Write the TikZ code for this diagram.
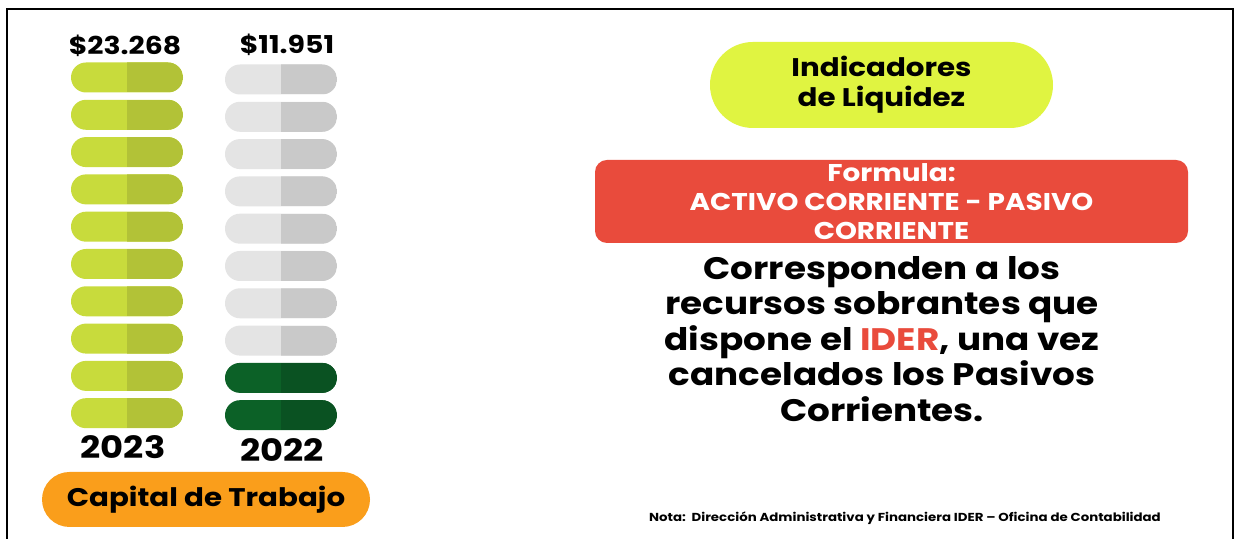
\documentclass[tikz,border=0pt]{standalone}
\usepackage{fontspec}
\setmainfont{Poppins}[FakeStretch=1.15]
\usepackage{tikz}
\usetikzlibrary{positioning}
\definecolor{limeA}{HTML}{C8DB3C}
\definecolor{limeB}{HTML}{B2C237}
\definecolor{greyA}{HTML}{E4E4E4}
\definecolor{greyB}{HTML}{C9C9C9}
\definecolor{greenA}{HTML}{0C6127}
\definecolor{greenB}{HTML}{0A5222}
\definecolor{capOrange}{HTML}{FA9E1B}
\definecolor{indYellow}{HTML}{E0F441}
\definecolor{formRed}{HTML}{E94B3C}
\tikzset{
% capsule bar, right half darker
bar/.style 2 args={rectangle, rounded corners=0.3cm,
  minimum width=2.24cm, minimum height=0.6cm, inner sep=0, fill=#1,
  path picture={\fill[#2, sharp corners] (path picture bounding box.north) rectangle (path picture bounding box.south east);}}
}

\begin{document}
\begin{tikzpicture}[inner sep=0, outer sep=0, font=\bfseries]
  \useasboundingbox[fill=white] (0,0) rectangle (24.76,10.78);
  \draw[line width=1.1pt] (0.14,0) -- (0.14,10.60) -- (24.66,10.60) -- (24.66,0);

  % 2023 column
  \foreach \i in {0,...,9}
    \node[bar={limeA}{limeB}] (b23-\i) at (2.54, 9.23-0.746*\i) {};
  % 2022 column
  \foreach \i in {0,...,7}
    \node[bar={greyA}{greyB}] (b22-\i) at (5.62, 9.19-0.746*\i) {};
  \foreach \i in {8,9}
    \node[bar={greenA}{greenB}] (b22-\i) at (5.62, 9.19-0.746*\i) {};

  \node[font=\fontsize{14}{16}\bfseries] (val23) at (2.50, 9.86) {\$23.268};
  \node[font=\fontsize{14}{16}\bfseries] (val22) at (5.74, 9.88) {\$11.951};
  \node[font=\fontsize{17.5}{20}\bfseries] (year23) at (2.46, 1.84) {2023};
  \node[font=\fontsize{17.5}{20}\bfseries] (year22) at (5.64, 1.78) {2022};

  \node[rectangle, rounded corners=0.55cm,
    minimum width = 6.56cm,
    minimum height = 1.1cm,
    fill = capOrange,
    font=\fontsize{14.5}{16}\bfseries] (capital) at (4.12, 0.79) {Capital de Trabajo};

  \node[rectangle, rounded corners=0.86cm,
    align=center,
    minimum width = 6.86cm,
    minimum height = 1.72cm,
    fill = indYellow,
    font=\fontsize{14.5}{17}\bfseries] (indic) at (17.63, 9.08) {Indicadores\\de Liquidez};

  \node[rectangle, rounded corners=0.24cm,
    align=center,
    minimum width = 11.86cm,
    minimum height = 1.66cm,
    fill = formRed,
    text = white,
    font=\fontsize{13.8}{16.5}\bfseries] (formula) at (17.83, 6.75)
    {Formula:\\ACTIVO CORRIENTE - PASIVO\\CORRIENTE};

  \node[align=center,
    font=\fontsize{17.7}{20.2}\bfseries] (desc) at (17.64, 4.00)
    {Corresponden a los\\recursos sobrantes que\\dispone el \textcolor{formRed}{IDER}, una vez\\cancelados los Pasivos\\Corrientes.};

  \node[font=\fontsize{6.6}{8}\bfseries] (nota) at (18.10, 0.42)
    {Nota:\ \ Dirección Administrativa y Financiera IDER – Oficina de Contabilidad};
\end{tikzpicture}
\end{document}
